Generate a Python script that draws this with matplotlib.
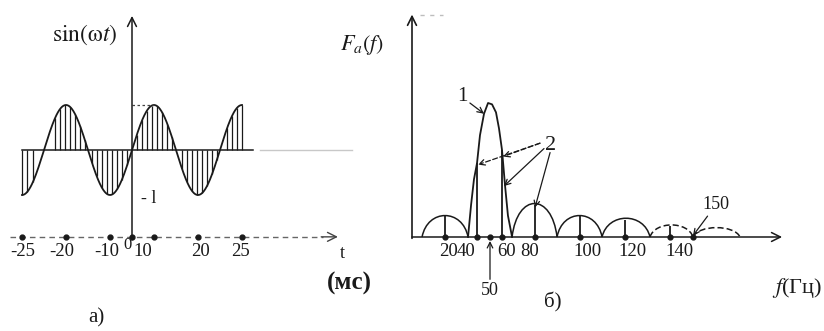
import numpy as np
import matplotlib
matplotlib.use("Agg")
import matplotlib.pyplot as plt
from matplotlib.path import Path
from matplotlib.patches import PathPatch

plt.rcParams["font.family"] = ["Liberation Serif", "DejaVu Serif"]
plt.rcParams["mathtext.fontset"] = "stix"

# ---------------- a) sampled sine wave ----------------
signal_freq_hz = 50.0
amplitude = 1.0
t_start_ms, t_end_ms = -25.0, 25.0
sample_times_ms = [-25.0, -23.9, -22.5, -17.5, -16.4, -15.2, -14.1, -13.0, -11.8,
                   -10.7, -9.1, -8.0, -6.8, -5.7, -4.5, -3.4, -2.3, -1.1, 1.1, 2.3,
                   3.4, 4.5, 5.7, 6.8, 8.0, 9.1, 11.4, 12.5, 13.6, 14.8, 15.9, 17.0,
                   18.2, 19.3, 21.6, 22.7, 23.9, 25.0]
time_ticks_ms = [-25, -15, -5, 0, 5, 15, 25]
time_tick_labels = ["-25", "-20", "-10", "0", "10", "20", "25"]

# ---------------- б) amplitude spectrum ----------------
main_lobe_f = [34.4, 36.3, 38.1, 40.0, 42.3, 45.4, 48.5, 51.7, 55.0, 57.5, 60.0, 61.8, 63.6, 66.1]
main_lobe_amp = [0.0, 0.24, 0.43, 0.55, 0.76, 0.92, 1.0, 0.99, 0.93, 0.81, 0.65, 0.39, 0.16, 0.0]
side_lobe_start = [6.1, 66.1, 89.8, 109.8, 131.1, 150.0]
side_lobe_end = [34.4, 89.8, 109.8, 131.1, 150.0, 170.9]
side_lobe_height = [0.16, 0.25, 0.16, 0.14, 0.09, 0.07]
side_lobe_dashed = [False, False, False, False, True, True]
line_freqs = [20, 40, 60, 80, 100, 120, 140]
line_amps = [0.16, 0.55, 0.65, 0.24, 0.16, 0.13, 0.08]
marked_freqs = [20, 40, 50, 60, 80, 100, 120, 140, 150]
freq_tick_labels = ["20", "40", "60", "80", "100", "120", "140"]

W, H = 824, 331
fig = plt.figure(figsize=(W / 100, H / 100), dpi=100)
ink = "#1a1a1a"

# ===== left panel =====
ax1 = fig.add_axes([0, 0, 1, 1])
ax1.set_axis_off()
ax1.set_xlim(-132 / 4.4, (W - 132) / 4.4)
ax1.set_ylim(-(H - 150) / 45, 150 / 45)

t = np.linspace(t_start_ms, t_end_ms, 600)
omega = 2 * np.pi * signal_freq_hz / 1000.0
ax1.plot(t, amplitude * np.sin(omega * t), color=ink, lw=1.3)
ts = np.array(sample_times_ms)
ax1.vlines(ts, 0, amplitude * np.sin(omega * ts), color=ink, lw=0.9)

# zero line of the signal
ax1.plot([t_start_ms, 27.5], [0, 0], color=ink, lw=1.1)
ax1.plot([29, 50], [0, 0], color="#c8c8c8", lw=1.0)
# amplitude guide
ax1.plot([0, 5], [1, 1], color="#444444", lw=0.9, ls=(0, (2, 2)))

# vertical axis
ax1.annotate("", xy=(0, 2.98), xytext=(0, -2.0),
             arrowprops=dict(arrowstyle="->", color=ink, lw=1.1, mutation_scale=16,
                             shrinkA=0, shrinkB=0))
ax1.text(-10.7, 2.56, r"$\mathrm{sin(\omega}\mathit{t}\mathrm{)}$", fontsize=17,
         ha="center", va="center", color=ink)
ax1.text(3.8, -1.07, "- l", fontsize=13, ha="center", va="center", color=ink)

# time axis
y_time = -1.93
ax1.plot([-27.7, 43.5], [y_time, y_time], color="#666666", lw=1.0, ls=(0, (4, 3)))
ax1.annotate("", xy=(46.8, y_time), xytext=(43.0, y_time),
             arrowprops=dict(arrowstyle="->", color="#444444", lw=1.0,
                             mutation_scale=16, shrinkA=0, shrinkB=0))
ax1.plot(time_ticks_ms, [y_time] * len(time_ticks_ms), "o", color=ink, ms=3.5)
label_dx = [1, -4, -3, -4, -11, 3, -1]
label_dy = [-15, -15, -15, -8, -15, -15, -15]
for tk, lab, dx, dy in zip(time_ticks_ms, time_tick_labels, label_dx, label_dy):
    ax1.annotate(lab, xy=(tk, y_time), xytext=(dx * 0.72, dy * 0.72),
                 textcoords="offset points", ha="center", va="center",
                 fontsize=12 if lab == "0" else 13.5, color=ink)
ax1.text(47.7, -2.29, "t", fontsize=13, ha="center", va="center", color=ink)
ax1.text(49.5, -2.96, "(мс)", fontsize=18, ha="center", va="center", color=ink,
         fontweight="bold")
ax1.text(-8.0, -3.73, "а)", fontsize=15, ha="center", va="center", color=ink)

# ===== right panel =====
f_knots = [-300, 0, 20, 40, 50, 60, 80, 100, 120, 140, 150, 260]
px_knots = [-83, 412, 445, 477, 490, 502, 535, 580, 625, 670, 693, 940.5]


def f_to_px(f):
    return np.interp(np.asarray(f, dtype=float), f_knots, px_knots)


def px_to_f(u):
    return np.interp(np.asarray(u, dtype=float), px_knots, f_knots)


ax2 = fig.add_axes([0, 0, 1, 1])
ax2.set_axis_off()
ax2.set_xscale("function", functions=(f_to_px, px_to_f))
ax2.set_xlim(float(px_to_f(0)), float(px_to_f(W)))
ax2.set_ylim(-(H - 237) / 134, 237 / 134)

# axes
ax2.annotate("", xy=(0, 1.66), xytext=(0, -0.01),
             arrowprops=dict(arrowstyle="->", color=ink, lw=1.2, mutation_scale=16,
                             shrinkA=0, shrinkB=0))
ax2.plot([4.8, 18.8], [1.66, 1.66], color="#bdbdbd", lw=1.0, ls=(0, (3, 4)))
ax2.annotate("", xy=(189.6, 0), xytext=(0, 0),
             arrowprops=dict(arrowstyle="->", color=ink, lw=1.1, mutation_scale=16,
                             shrinkA=0, shrinkB=0))
ax2.text(-30.3, 1.43, r"$F_a(f)$", fontsize=16, ha="center", va="center", color=ink)
ax2.text(196.2, -0.38, r"$f$(Гц)", fontsize=16, ha="center", va="center", color=ink)
ax2.text(88.0, -0.49, "б)", fontsize=15, ha="center", va="center", color=ink)

# main lobe
ax2.plot(main_lobe_f, main_lobe_amp, color=ink, lw=1.3)
# side lobes as rounded arches (cubic Bezier, apex height = h)
for f0, f1, h, dashed in zip(side_lobe_start, side_lobe_end, side_lobe_height, side_lobe_dashed):
    u0, u1 = float(f_to_px(f0)), float(f_to_px(f1))
    w = u1 - u0
    c0 = float(px_to_f(u0 + 0.12 * w))
    c1 = float(px_to_f(u1 - 0.12 * w))
    path = Path([(f0, 0), (c0, 4 * h / 3), (c1, 4 * h / 3), (f1, 0)],
                [Path.MOVETO, Path.CURVE4, Path.CURVE4, Path.CURVE4])
    ax2.add_patch(PathPatch(path, fill=False, edgecolor=ink, lw=1.1,
                            ls=(0, (4, 2)) if dashed else "-"))

# spectral lines and frequency marks
ax2.vlines(line_freqs, 0, line_amps, color=ink, lw=1.3)
ax2.plot(marked_freqs, [0] * len(marked_freqs), "o", color=ink, ms=3.5)
f_label_dx = [4, -11, 5, -5, 7, 7, 9]
for fk, lab, dx in zip(line_freqs, freq_tick_labels, f_label_dx):
    ax2.annotate(lab, xy=(fk, 0), xytext=(dx * 0.72, -15 * 0.72),
                 textcoords="offset points", ha="center", va="center",
                 fontsize=13.5, color=ink)

# callouts
arrow_kw = dict(arrowstyle="->", color=ink, lw=0.9, mutation_scale=10, shrinkA=0, shrinkB=0)
ax2.annotate("1", xy=(45.4, 0.92), xytext=(30.6, 1.045), fontsize=15,
             ha="center", va="center", color=ink, arrowprops=arrow_kw)
ax2.text(87.1, 0.68, "2", fontsize=16, ha="center", va="center", color=ink)
for (x0, y0), (x1, y1), style in [((82.2, 0.70), (40.8, 0.54), (0, (4, 2))),
                                  ((82.2, 0.70), (60.6, 0.60), (0, (4, 2))),
                                  ((84.0, 0.66), (61.2, 0.38), "-"),
                                  ((86.7, 0.63), (80.0, 0.22), "-")]:
    kw = dict(arrow_kw)
    kw["ls"] = style
    ax2.annotate("", xy=(x1, y1), xytext=(x0, y0), arrowprops=kw)
ax2.annotate("50", xy=(50, -0.03), xytext=(50, -0.40), fontsize=13,
             ha="center", va="center", color=ink, arrowprops=arrow_kw)
ax2.annotate("150", xy=(150, 0.01), xytext=(160.2, 0.24), fontsize=13,
             ha="center", va="center", color=ink, arrowprops=arrow_kw)

fig.savefig("out.png", dpi=100, facecolor="white")
